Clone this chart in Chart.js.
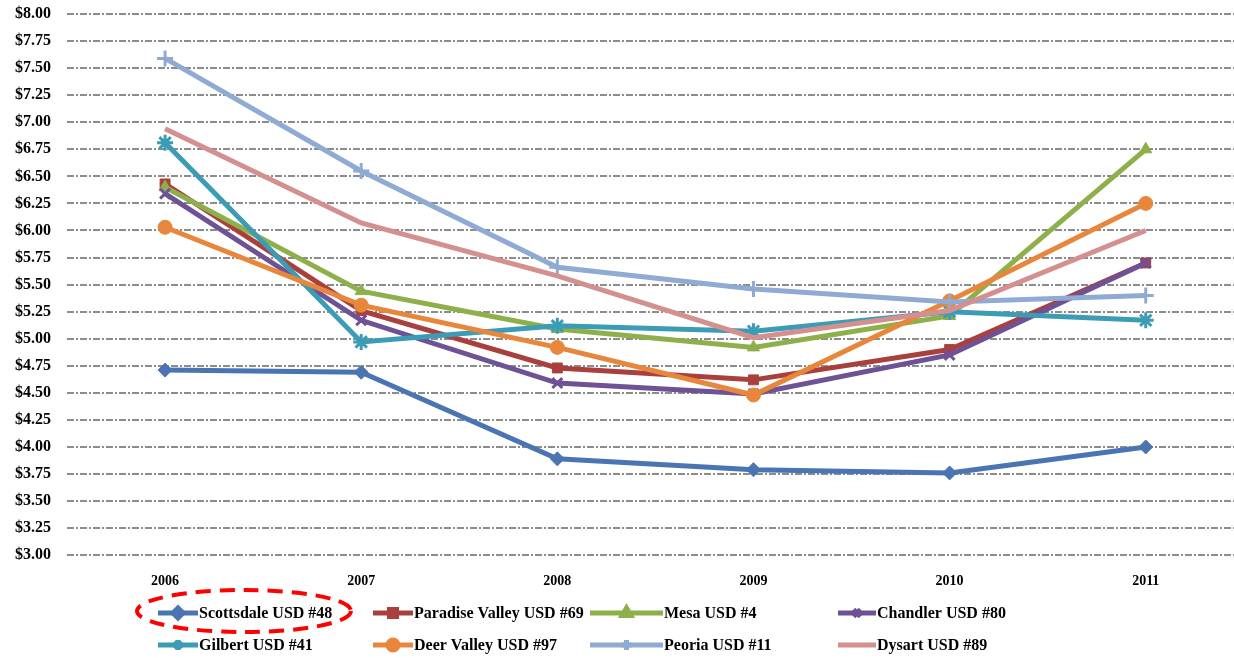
<!DOCTYPE html>
<html>
<head>
<meta charset="utf-8">
<script src="https://cdn.jsdelivr.net/npm/chart.js@4.4.0/dist/chart.umd.min.js"></script>
<style>
html, body { margin: 0; padding: 0; background: #fff; }
</style>
</head>
<body>
<canvas id="myLineChart" width="1234" height="658"></canvas>
<script>
// data
var years = [2006, 2007, 2008, 2009, 2010, 2011];
var districts = ['Scottsdale USD #48', 'Paradise Valley USD #69', 'Mesa USD #4', 'Chandler USD #80',
	'Gilbert USD #41', 'Deer Valley USD #97', 'Peoria USD #11', 'Dysart USD #89'];
var scottsdale = [4.71, 4.69, 3.89, 3.79, 3.76, 4.00];
var paradiseValley = [6.43, 5.26, 4.73, 4.62, 4.90, 5.70];
var mesa = [6.40, 5.44, 5.09, 4.92, 5.21, 6.75];
var chandler = [6.34, 5.17, 4.59, 4.49, 4.85, 5.70];
var gilbert = [6.81, 4.97, 5.12, 5.07, 5.25, 5.17];
var deerValley = [6.03, 5.31, 4.92, 4.48, 5.35, 6.25];
var peoria = [7.59, 6.55, 5.66, 5.46, 5.34, 5.40];
var dysart = [6.94, 6.07, 5.58, 5.01, 5.26, 6.00];
var yTicks = [3.00, 3.25, 3.50, 3.75, 4.00, 4.25, 4.50, 4.75, 5.00, 5.25, 5.50, 5.75,
	6.00, 6.25, 6.50, 6.75, 7.00, 7.25, 7.50, 7.75, 8.00];

var series = [scottsdale, paradiseValley, mesa, chandler, gilbert, deerValley, peoria, dysart];
var colors = ['#4A74B2', '#AA403D', '#8DB04A', '#6E5295', '#3D9CB5', '#E8873C', '#8FAAD3', '#D4908F'];
var markers = ['rectRot', 'rect', 'triangle', 'crossRot', 'star', 'circle', 'cross', false];
var markerSize = [7, 7, 7, 7, 8, 7, 8, 0];

var datasets = [];
for (var i in series) {
	var pts = [];
	for (var j in years) {
		pts.push({ x: years[j], y: series[i][j] });
	}
	datasets.push({
		label: districts[i],
		data: pts,
		borderColor: colors[i],
		backgroundColor: colors[i],
		borderWidth: 5,
		pointStyle: markers[i],
		pointRadius: markerSize[i],
		pointBorderWidth: (markers[i] == 'cross' || markers[i] == 'star' || markers[i] == 'crossRot') ? 3 : 1,
		tension: 0,
		order: 7 - i
	});
}

// excel style legend in 4 columns + the red ring around Scottsdale
var legendPlugin = {
	id: 'gridLegend',
	afterDraw: function(chart) {
		var ctx = chart.ctx;
		var colX = [158, 373, 590, 838];
		var rowY = [613, 645];
		var symLen = [40, 40, 73, 38];
		ctx.save();
		for (var i = 0; i < datasets.length; i++) {
			var c = i % 4, r = Math.floor(i / 4);
			var x0 = colX[c], y0 = rowY[r];
			ctx.strokeStyle = colors[i];
			ctx.lineWidth = 5;
			ctx.setLineDash([]);
			ctx.beginPath();
			ctx.moveTo(x0, y0);
			ctx.lineTo(x0 + symLen[c], y0);
			ctx.stroke();
			if (markers[i]) {
				ctx.fillStyle = colors[i];
				Chart.helpers.drawPoint(ctx, {
					pointStyle: markers[i],
					radius: 5,
					borderWidth: datasets[i].pointBorderWidth,
					rotation: 0
				}, x0 + symLen[c] / 2, y0);
			}
			ctx.fillStyle = '#000';
			ctx.font = 'bold 16px "Liberation Serif", serif';
			ctx.textBaseline = 'middle';
			ctx.textAlign = 'left';
			ctx.fillText(districts[i], x0 + symLen[c] + 1, y0 + 1);
		}
		ctx.strokeStyle = '#FF0000';
		ctx.lineWidth = 4;
		ctx.setLineDash([15, 9]);
		ctx.beginPath();
		ctx.ellipse(244, 611, 107, 21, 0, 0, Math.PI * 2);
		ctx.stroke();
		ctx.restore();
	}
};

var ctx = document.getElementById('myLineChart');

var lineGraph = new Chart(ctx, {
	type: 'line',
	data: { datasets: datasets },
	options: {
		responsive: false,
		animation: false,
		layout: { autoPadding: false, padding: { top: 14, right: 0, bottom: 50, left: 0 } },
		plugins: {
			legend: { display: false },
			tooltip: { enabled: false }
		},
		scales: {
			x: {
				type: 'linear',
				min: 2005.5,
				max: 2011.45,
				afterBuildTicks: function(axis) {
					axis.ticks = years.map(function(v) { return { value: v }; });
				},
				grid: { display: false, drawTicks: false },
				border: { display: false },
				ticks: {
					padding: 18,
					color: '#000',
					font: { family: '"Liberation Serif", serif', size: 14, weight: 'bold' },
					callback: function(v) { return String(v); }
				}
			},
			y: {
				min: 3,
				max: 8,
				afterBuildTicks: function(axis) {
					axis.ticks = yTicks.map(function(v) { return { value: v }; });
				},
				afterFit: function(scale) {
					scale.width = 67;
					scale.paddingTop = 0;
					scale.paddingBottom = 0;
				},
				border: { display: false, dash: [7, 2, 2, 2] },
				grid: {
					color: '#8C8C8C',
					lineWidth: 2,
					drawTicks: false
				},
				ticks: {
					padding: 16,
					color: '#000',
					font: { family: '"Liberation Serif", serif', size: 16, weight: 'bold' },
					callback: function(v) { return '$' + v.toFixed(2); }
				}
			}
		}
	},
	plugins: [legendPlugin]
});
</script>
</body>
</html>
